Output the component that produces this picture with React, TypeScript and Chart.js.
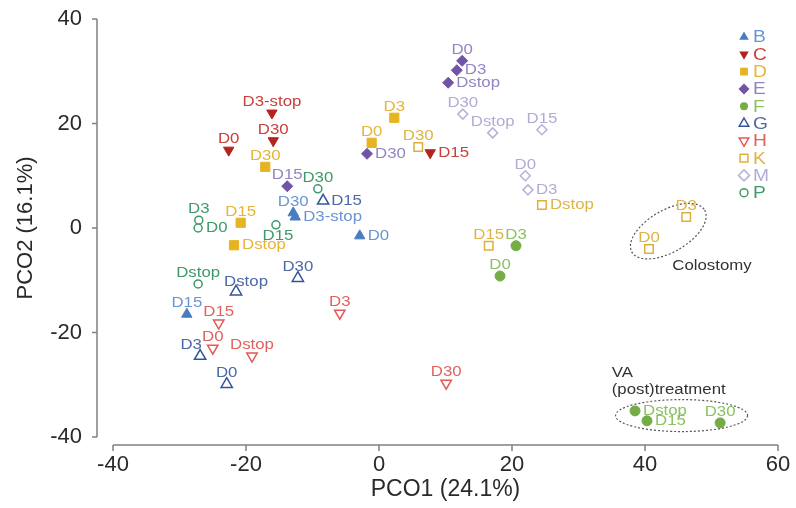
import React, { useEffect, useRef } from "react";
import { Chart, registerables } from "chart.js";

Chart.register(...registerables);

const FAMILY = "'Liberation Sans', Arial, Helvetica, sans-serif";
const TEXT_STRETCH = 1.2;

// Axis ticks
const xTicks = [-40, -20, 0, 20, 40, 60];
const yTicks = [-40, -20, 0, 20, 40];
const xTitle = "PCO1 (24.1%)";
const yTitle = "PCO2 (16.1%)";

// Groups (legend order)
const groups = ["B", "C", "D", "E", "F", "G", "H", "K", "M", "P"];

// ---- Series data ----
const B_labels = ["D30", "D3-stop", "D0", "D15"];
const B_x = [-12.9, -12.6, -2.9, -28.9];
const B_y = [2.9, 2.1, -1.5, -16.5];
const B_pos = ["top", "right", "right", "top"];

const C_labels = ["D3-stop", "D30", "D0", "D15"];
const C_x = [-16.1, -15.9, -22.6, 7.7];
const C_y = [22.0, 16.7, 14.9, 14.4];
const C_pos = ["top", "top", "top", "right"];

const D_labels = ["D3", "D0", "D30", "D15", "Dstop"];
const D_x = [2.3, -1.1, -17.1, -20.8, -21.8];
const D_y = [21.1, 16.3, 11.7, 1.0, -3.3];
const D_pos = ["top", "top", "top", "top", "right"];

const E_labels = ["D0", "D3", "Dstop", "D30", "D15"];
const E_x = [12.5, 11.7, 10.4, -1.8, -13.8];
const E_y = [32.0, 30.2, 27.8, 14.2, 8.0];
const E_pos = ["top", "right", "right", "right", "top"];

const F_labels = ["D3", "D0", "Dstop", "D15", "D30"];
const F_x = [20.6, 18.2, 38.5, 40.3, 51.3];
const F_y = [-3.4, -9.2, -35.0, -36.9, -37.3];
const F_pos = ["top", "top", "right", "right", "top"];

const G_labels = ["D15", "D30", "Dstop", "D3", "D0"];
const G_x = [-8.4, -12.2, -21.5, -26.9, -22.9];
const G_y = [5.2, -9.6, -12.2, -24.5, -29.9];
const G_pos = ["right", "top", "topright", "topleft", "top"];

const H_labels = ["D3", "D15", "D0", "Dstop", "D30"];
const H_x = [-5.9, -24.1, -25.0, -19.1, 10.1];
const H_y = [-16.3, -18.2, -23.0, -24.5, -29.7];
const H_pos = ["top", "top", "top", "top", "top"];

const K_labels = ["D30", "Dstop", "D15", "D3", "D0"];
const K_x = [5.9, 24.5, 16.5, 46.2, 40.6];
const K_y = [15.5, 4.4, -3.4, 2.1, -4.0];
const K_pos = ["top", "right", "top", "top", "top"];

const M_labels = ["D30", "Dstop", "D15", "D0", "D3"];
const M_x = [12.6, 17.1, 24.5, 22.0, 22.4];
const M_y = [21.8, 18.2, 18.8, 10.0, 7.3];
const M_pos = ["top", "top", "top", "top", "right"];

const P_labels = ["D30", "D3", "D0", "D15", "Dstop"];
const P_x = [-9.2, -27.1, -27.2, -15.5, -27.2];
const P_y = [7.5, 1.5, 0.0, 0.6, -10.7];
const P_pos = ["top", "top", "right", "bottom", "top"];

// Annotations (data coordinates)
const colostomyText = "Colostomy";
const colostomyCenter = [43.5, -0.6];
const colostomyTextAt = [44.1, -7.3];
const vaLines = ["VA", "(post)treatment"];
const vaCenter = [45.5, -35.9];
const vaTextAt = [35.0, -27.8];

const SERIES = [
  { name: "B", labels: B_labels, x: B_x, y: B_y, pos: B_pos },
  { name: "C", labels: C_labels, x: C_x, y: C_y, pos: C_pos },
  { name: "D", labels: D_labels, x: D_x, y: D_y, pos: D_pos },
  { name: "E", labels: E_labels, x: E_x, y: E_y, pos: E_pos },
  { name: "F", labels: F_labels, x: F_x, y: F_y, pos: F_pos },
  { name: "G", labels: G_labels, x: G_x, y: G_y, pos: G_pos },
  { name: "H", labels: H_labels, x: H_x, y: H_y, pos: H_pos },
  { name: "K", labels: K_labels, x: K_x, y: K_y, pos: K_pos },
  { name: "M", labels: M_labels, x: M_x, y: M_y, pos: M_pos },
  { name: "P", labels: P_labels, x: P_x, y: P_y, pos: P_pos },
];

type Style = { shape: string; filled: boolean; color: string; label: string; r: number };
const STYLE: Record<string, Style> = {
  B: { shape: "triangle", filled: true, color: "#4a7cc0", label: "#6a95d4", r: 6 },
  C: { shape: "triangleDown", filled: true, color: "#b3241f", label: "#c8403a", r: 6 },
  D: { shape: "rect", filled: true, color: "#e6b422", label: "#e5b53a", r: 6.5 },
  E: { shape: "diamond", filled: true, color: "#7154a6", label: "#9484c4", r: 5.5 },
  F: { shape: "circle", filled: true, color: "#74ad45", label: "#8cc262", r: 5 },
  G: { shape: "triangle", filled: false, color: "#34549a", label: "#4c69a6", r: 6.5 },
  H: { shape: "triangleDown", filled: false, color: "#df5a58", label: "#e0625e", r: 6 },
  K: { shape: "rect", filled: false, color: "#ddb03e", label: "#dcb546", r: 6 },
  M: { shape: "diamond", filled: false, color: "#b6b2da", label: "#b2acd4", r: 5 },
  P: { shape: "circle", filled: false, color: "#3f9a6a", label: "#3f9a6a", r: 4 },
};

const LABEL_OFFSETS: Record<string, [number, number, CanvasTextAlign]> = {
  top: [0, -11, "center"],
  right: [8, 0, "left"],
  bottom: [2, 11, "center"],
  topleft: [-9, -11, "center"],
  topright: [10, -10, "center"],
};

function chartStyle(shape: string) {
  if (shape === "triangle") return { pointStyle: "triangle", rotation: 0 };
  if (shape === "triangleDown") return { pointStyle: "triangle", rotation: 180 };
  if (shape === "rect") return { pointStyle: "rect", rotation: 0 };
  if (shape === "diamond") return { pointStyle: "rectRot", rotation: 0 };
  return { pointStyle: "circle", rotation: 0 };
}

function stretchedText(ctx: CanvasRenderingContext2D, text: string, x: number, y: number) {
  ctx.save();
  ctx.translate(x, y);
  ctx.scale(TEXT_STRETCH, 1);
  ctx.fillText(text, 0, 0);
  ctx.restore();
}

function drawShape(ctx: CanvasRenderingContext2D, st: Style, x: number, y: number, r: number) {
  ctx.beginPath();
  const s = st.shape;
  if (s === "triangle") {
    ctx.moveTo(x, y - r);
    ctx.lineTo(x + r * 0.866, y + r * 0.5);
    ctx.lineTo(x - r * 0.866, y + r * 0.5);
  } else if (s === "triangleDown") {
    ctx.moveTo(x, y + r);
    ctx.lineTo(x + r * 0.866, y - r * 0.5);
    ctx.lineTo(x - r * 0.866, y - r * 0.5);
  } else if (s === "rect") {
    const h = r * 0.707;
    ctx.rect(x - h, y - h, 2 * h, 2 * h);
  } else if (s === "diamond") {
    ctx.moveTo(x, y - r);
    ctx.lineTo(x + r, y);
    ctx.lineTo(x, y + r);
    ctx.lineTo(x - r, y);
  } else {
    ctx.arc(x, y, r, 0, Math.PI * 2);
  }
  ctx.closePath();
  if (st.filled) {
    ctx.fillStyle = st.color;
    ctx.fill();
  } else {
    ctx.fillStyle = "#ffffff";
    ctx.fill();
    ctx.strokeStyle = st.color;
    ctx.lineWidth = 1.5;
    ctx.stroke();
  }
}

const decorPlugin = {
  id: "decor",
  beforeDatasetsDraw(chart: any) {
    const ctx: CanvasRenderingContext2D = chart.ctx;
    const xs = chart.scales.x;
    const ys = chart.scales.y;
    const ca = chart.chartArea;
    ctx.save();
    ctx.strokeStyle = "#808080";
    ctx.lineWidth = 1.5;
    const axX = ca.left - 16;
    const axY = ca.bottom + 8;
    ctx.beginPath();
    ctx.moveTo(axX, ys.getPixelForValue(yTicks[0]));
    ctx.lineTo(axX, ys.getPixelForValue(yTicks[yTicks.length - 1]));
    for (const v of yTicks) {
      const p = ys.getPixelForValue(v);
      ctx.moveTo(axX - 5, p);
      ctx.lineTo(axX, p);
    }
    ctx.moveTo(xs.getPixelForValue(xTicks[0]), axY);
    ctx.lineTo(xs.getPixelForValue(xTicks[xTicks.length - 1]), axY);
    for (const v of xTicks) {
      const p = xs.getPixelForValue(v);
      ctx.moveTo(p, axY);
      ctx.lineTo(p, axY + 6);
    }
    ctx.stroke();

    // ellipses
    ctx.setLineDash([2, 2]);
    ctx.strokeStyle = "#555555";
    ctx.lineWidth = 1.2;
    ctx.beginPath();
    ctx.ellipse(
      xs.getPixelForValue(colostomyCenter[0]),
      ys.getPixelForValue(colostomyCenter[1]),
      42, 21, -Math.PI / 6, 0, Math.PI * 2
    );
    ctx.stroke();
    ctx.beginPath();
    ctx.ellipse(
      xs.getPixelForValue(vaCenter[0]),
      ys.getPixelForValue(vaCenter[1]),
      66, 16, 0, 0, Math.PI * 2
    );
    ctx.stroke();
    ctx.setLineDash([]);

    ctx.fillStyle = "#333333";
    ctx.font = `14px ${FAMILY}`;
    ctx.textAlign = "left";
    ctx.textBaseline = "middle";
    stretchedText(ctx, colostomyText, xs.getPixelForValue(colostomyTextAt[0]), ys.getPixelForValue(colostomyTextAt[1]));
    const vx = xs.getPixelForValue(vaTextAt[0]);
    const vy = ys.getPixelForValue(vaTextAt[1]);
    vaLines.forEach((t, i) => stretchedText(ctx, t, vx, vy + i * 17));
    ctx.restore();
  },
  afterDatasetsDraw(chart: any) {
    const ctx: CanvasRenderingContext2D = chart.ctx;
    const ca = chart.chartArea;
    ctx.save();
    ctx.font = `14px ${FAMILY}`;
    ctx.textBaseline = "middle";
    SERIES.forEach((s, di) => {
      const meta = chart.getDatasetMeta(di);
      const st = STYLE[s.name];
      ctx.fillStyle = st.label;
      meta.data.forEach((el: any, i: number) => {
        const off = LABEL_OFFSETS[s.pos[i]] || LABEL_OFFSETS.top;
        ctx.textAlign = off[2];
        stretchedText(ctx, s.labels[i], el.x + off[0], el.y + off[1]);
      });
    });

    // legend
    const lx = ca.right - 34;
    const ly = ca.top + 18;
    ctx.font = `16px ${FAMILY}`;
    ctx.textAlign = "left";
    groups.forEach((g, i) => {
      const st = STYLE[g];
      const y = ly + i * 17.3;
      drawShape(ctx, st, lx, y, st.shape === "circle" ? 4 : 5.5);
      ctx.fillStyle = st.label;
      stretchedText(ctx, g, lx + 9, y + 1);
    });
    ctx.restore();
  },
};

export default function App() {
  const ref = useRef<HTMLCanvasElement | null>(null);
  useEffect(() => {
    if (!ref.current) return;
    const datasets = SERIES.map((s) => {
      const st = STYLE[s.name];
      const cs = chartStyle(st.shape);
      return {
        label: s.name,
        data: s.x.map((x, i) => ({ x, y: s.y[i] })),
        pointStyle: cs.pointStyle as any,
        rotation: cs.rotation,
        pointRadius: st.r,
        backgroundColor: st.filled ? st.color : "#ffffff",
        borderColor: st.color,
        borderWidth: st.filled ? 1 : 1.5,
        showLine: false,
      };
    });
    const chart = new Chart(ref.current, {
      type: "scatter",
      data: { datasets },
      options: {
        animation: false,
        responsive: false,
        maintainAspectRatio: false,
        layout: { padding: { top: 19, right: 18, left: 0, bottom: 0 }, autoPadding: false },
        plugins: { legend: { display: false }, tooltip: { enabled: false } },
        scales: {
          x: {
            type: "linear",
            min: xTicks[0],
            max: xTicks[xTicks.length - 1],
            afterBuildTicks: (sc: any) => {
              sc.ticks = xTicks.map((v) => ({ value: v }));
            },
            afterFit: (sc: any) => {
              sc.height = 71;
            },
            grid: { display: false, drawTicks: true, tickLength: 15 },
            border: { display: false },
            ticks: { padding: 0, color: "#2a2a2a", font: { size: 22, family: FAMILY } },
            title: {
              display: true,
              text: xTitle,
              color: "#2a2a2a",
              font: { size: 23, family: FAMILY, lineHeight: 1 },
              padding: { top: 0, bottom: 7 },
            },
          },
          y: {
            type: "linear",
            min: yTicks[0],
            max: yTicks[yTicks.length - 1],
            afterBuildTicks: (sc: any) => {
              sc.ticks = yTicks.map((v) => ({ value: v }));
            },
            afterFit: (sc: any) => {
              sc.width = 113;
            },
            grid: { display: false, drawTicks: true, tickLength: 31 },
            border: { display: false },
            ticks: { padding: 0, color: "#2a2a2a", font: { size: 22, family: FAMILY } },
            title: {
              display: true,
              text: yTitle,
              color: "#2a2a2a",
              font: { size: 22, family: FAMILY, lineHeight: 1 },
              padding: { top: 15, bottom: 0 },
            },
          },
        },
      },
      plugins: [decorPlugin],
    });
    return () => chart.destroy();
  }, []);
  return (
    <canvas
      ref={ref}
      width={796}
      height={508}
      style={{ position: "absolute", left: 0, top: 0, width: 796, height: 508, display: "block" }}
    />
  );
}
